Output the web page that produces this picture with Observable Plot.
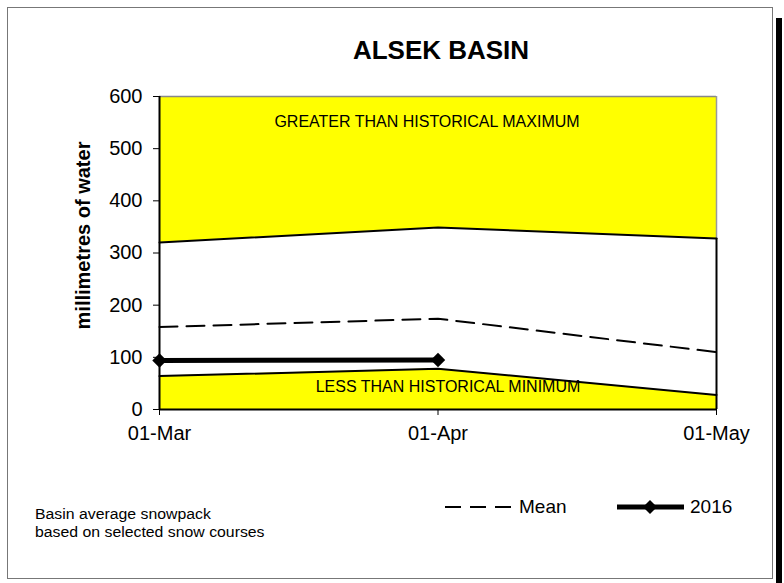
<!DOCTYPE html>
<html>
<head>
<meta charset="utf-8">
<script src="https://cdn.jsdelivr.net/npm/d3@7"></script>
<script src="https://cdn.jsdelivr.net/npm/@observablehq/plot@0.6"></script>
<style>
  body { margin: 0; background: #fff; }
  #wrap { position: relative; width: 784px; height: 583px; font-family: "Liberation Sans", Arial, sans-serif; overflow: hidden; }
  #frame { position: absolute; left: 7px; top: 7px; width: 766px; height: 572px; border: 1px solid #777; background: #fff; box-sizing: border-box; }
  #shadow { position: absolute; left: 776px; top: 18px; width: 6px; height: 565px; background: #000; }
  #chart { position: absolute; left: 0; top: 0; }
  .txt { position: absolute; white-space: nowrap; color: #000; }
</style>
</head>
<body>
<div id="wrap">
  <div id="shadow"></div>
  <div id="frame"></div>
  <div id="chart"></div>
  <div class="txt" id="title" style="left:0;width:882px;top:35px;text-align:center;font-weight:bold;font-size:26px;">ALSEK BASIN</div>
  <div class="txt" id="ylab" style="left:83px;top:224px;font-weight:bold;font-size:20px;transform:translate(-50%,0) rotate(-90deg);transform-origin:50% 50%;">millimetres of water</div>
  <div class="txt" style="left:35px;top:505px;font-size:14px;line-height:18px;transform:scaleX(1.13);transform-origin:0 0;">Basin average snowpack<br>based on selected snow courses</div>
  <div class="txt" style="left:519px;top:496px;font-size:19px;">Mean</div>
  <div class="txt" style="left:690px;top:496px;font-size:19px;">2016</div>
  <svg class="txt" style="left:0;top:0;" width="784" height="583">
    <line x1="445" x2="512" y1="507" y2="507" stroke="#000" stroke-width="2" stroke-dasharray="16,9"/>
    <line x1="617" x2="684" y1="507" y2="507" stroke="#000" stroke-width="5"/>
    <path d="M650,500 L657,507 L650,514 L643,507 Z" fill="#000"/>
  </svg>
</div>
<script>
const dates = ["01-Mar", "01-Apr", "01-May"];
const histMax = [320, 349, 328];
const histMin = [64, 78, 28];
const meanVals = [158, 174, 110];
const y2016 = [94, 95, null];
const yTicks = [0, 100, 200, 300, 400, 500, 600];
const yTop = 600;

const rows = dates.map((d, i) => ({i, date: d, max: histMax[i], min: histMin[i], mean: meanVals[i], cur: y2016[i]}));
const cur = rows.filter(r => r.cur != null);
const last = rows[rows.length - 1];

const chart = Plot.plot({
  width: 784,
  height: 583,
  marginLeft: 159,
  marginRight: 68,
  marginTop: 96,
  marginBottom: 174,
  style: {fontFamily: "Liberation Sans, Arial, sans-serif", fontSize: "20px", background: "transparent", overflow: "visible"},
  x: {type: "linear", domain: [0, dates.length - 1]},
  y: {domain: [0, yTop]},
  marks: [
    Plot.areaY(rows, {x: "i", y1: "max", y2: () => yTop, fill: "#ffff00"}),
    Plot.areaY(rows, {x: "i", y1: 0, y2: "min", fill: "#ffff00"}),
    Plot.ruleY([yTop], {stroke: "#888", strokeWidth: 1.5}),
    Plot.ruleX([last], {x: "i", y1: "max", y2: () => yTop, stroke: "#999", strokeWidth: 1.5}),
    Plot.ruleX([last], {x: "i", y1: 0, y2: "max", stroke: "#000", strokeWidth: 2}),
    Plot.line(rows, {x: "i", y: "max", stroke: "#000", strokeWidth: 2}),
    Plot.line(rows, {x: "i", y: "min", stroke: "#000", strokeWidth: 2}),
    Plot.line(rows, {x: "i", y: "mean", stroke: "#000", strokeWidth: 2, strokeDasharray: "18,9"}),
    Plot.text(["GREATER THAN HISTORICAL MAXIMUM"], {frameAnchor: "top", dx: -11, dy: 19, fontSize: 16, fill: "#000"}),
    Plot.text(["LESS THAN HISTORICAL MINIMUM"], {frameAnchor: "bottom", dx: 10, dy: -18, fontSize: 16, fill: "#000"}),
    Plot.line(cur, {x: "i", y: "cur", stroke: "#000", strokeWidth: 5}),
    Plot.dot(cur, {x: "i", y: "cur", symbol: "diamond2", r: 6.5, fill: "#000", stroke: "none"}),
    Plot.ruleX([0], {stroke: "#000", strokeWidth: 2}),
    Plot.ruleY([0], {stroke: "#000", strokeWidth: 2}),
    Plot.axisY({ticks: yTicks, tickSize: 6, tickPadding: 11, fontSize: 20, label: null, stroke: "#000"}),
    Plot.axisX({ticks: dates.map((d, i) => i), tickFormat: i => dates[i], tickSize: 6, tickPadding: 10, fontSize: 20, label: null, stroke: "#000"})
  ]
});
document.getElementById("chart").appendChild(chart);
</script>
</body>
</html>
